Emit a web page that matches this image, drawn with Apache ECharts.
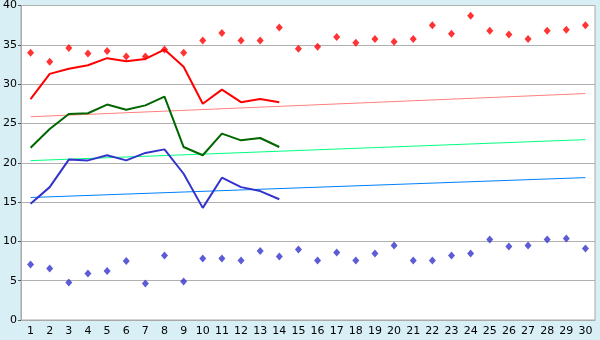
<!DOCTYPE html>
<html><head><meta charset="utf-8">
<script src="https://cdn.jsdelivr.net/npm/echarts@6/dist/echarts.min.js"></script>
<style>html,body{margin:0;padding:0;background:#d9eff6;}#c{width:600px;height:340px;}</style>
</head><body><div id="c"></div>
<script>
const days = Array.from({length:30},(_,i)=>String(i+1));
const maxPoints = [34.0,32.85,34.6,33.9,34.2,33.5,33.5,34.4,34.0,35.55,36.5,35.55,35.55,37.2,34.5,34.75,36.0,35.25,35.75,35.4,35.75,37.5,36.4,38.7,36.8,36.3,35.75,36.8,36.9,37.5];
const minPoints = [7.07,6.56,4.78,5.93,6.22,7.49,4.65,8.21,4.9,7.83,7.83,7.57,8.76,8.08,8.97,7.57,8.59,7.57,8.46,9.48,7.57,7.57,8.21,8.46,10.24,9.35,9.48,10.24,10.37,9.1];
const redLine = [28.1,31.3,31.95,32.4,33.3,32.9,33.2,34.4,32.2,27.5,29.3,27.7,28.1,27.7];
const greenLine = [21.9,24.3,26.2,26.3,27.4,26.75,27.3,28.4,22.0,20.95,23.7,22.85,23.15,22.0];
const blueLine = [14.8,16.9,20.4,20.3,20.95,20.3,21.25,21.7,18.6,14.26,18.1,16.9,16.4,15.36];
const redTrend = [25.85,28.8];
const greenTrend = [20.27,22.94];
const blueTrend = [15.58,18.11];
const yTicks = [0,5,10,15,20,25,30,35,40];

const trend = (vals,color)=>({type:'line',data:[[days[0],vals[0]],[days[days.length-1],vals[1]]],symbol:'none',lineStyle:{color,width:1},z:1,animation:false});
const line = (vals,color)=>({type:'line',data:vals,symbol:'none',lineStyle:{color,width:2},z:3,animation:false});
const dots = (vals,color)=>({type:'scatter',data:vals,symbol:'diamond',symbolSize:[7,8],itemStyle:{color},z:4,animation:false});

const chart = echarts.init(document.getElementById('c'));
chart.setOption({
  backgroundColor:'#d9eff6',
  animation:false,
  grid:{left:20,right:5,top:5,bottom:20,show:true,backgroundColor:'#ffffff',borderColor:'#aaaaaa',borderWidth:1},
  xAxis:{type:'category',data:days,boundaryGap:true,
    axisLine:{lineStyle:{color:'#aaaaaa'}},
    axisTick:{alignWithLabel:true,length:4,lineStyle:{color:'#555'}},
    axisLabel:{color:'#000',fontSize:11,fontFamily:'DejaVu Sans',margin:6,interval:0},
    splitLine:{show:false}},
  yAxis:{type:'value',min:yTicks[0],max:yTicks[yTicks.length-1],interval:5,
    axisLine:{show:true,lineStyle:{color:'#aaaaaa'}},
    axisTick:{show:true,length:3,lineStyle:{color:'#555'}},
    axisLabel:{color:'#000',fontSize:11,fontFamily:'DejaVu Sans',margin:4},
    splitLine:{lineStyle:{color:'#b0b0b0'}}},
  series:[
    trend(redTrend,'#ff8080'),
    trend(greenTrend,'#00ff80'),
    trend(blueTrend,'#0080ff'),
    line(redLine,'#ff0000'),
    line(greenLine,'#006600'),
    line(blueLine,'#3333cc'),
    dots(maxPoints,'#ff0000'),
    dots(minPoints,'#3333cc')
  ]
});
</script></body></html>
